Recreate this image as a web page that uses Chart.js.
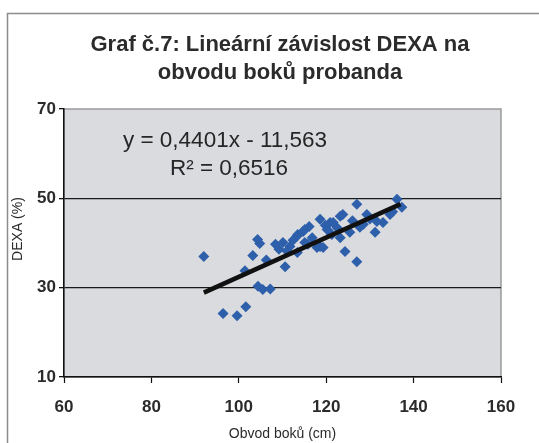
<!DOCTYPE html>
<html>
<head>
<meta charset="utf-8">
<script src="https://cdn.jsdelivr.net/npm/chart.js@4.4.0/dist/chart.umd.min.js"></script>
<style>
  html, body { margin: 0; padding: 0; background: #fff; }
</style>
</head>
<body>
<canvas id="graf" width="539" height="443"></canvas>
<script>
// hodnoty
const obvodBoku = [92, 96.4, 99.6, 101.6, 101.4, 103.2, 104.3, 104.8, 106.3, 104.4, 105.5, 107.2, 108.4, 109.2, 110.1, 111.0, 111.7, 112.4, 113.3, 113.5, 113.4, 110.6, 115.1, 114.7, 115.1, 115.8, 116.1, 116.8, 117.9, 118.6, 118.6, 119.3, 119.8, 120.2, 120.9, 121.6, 121.3, 122.5, 123.2, 123.8, 123.2, 124.3, 125.4, 126.0, 127.0, 127.0, 127.7, 128.5, 129.3, 130.0, 131.2, 131.6, 133.0, 134.6, 135.2, 136.2, 137.3];
const dexa = [37.0, 24.2, 23.7, 25.7, 33.8, 37.2, 40.8, 39.9, 36.2, 30.3, 29.6, 29.7, 39.7, 38.6, 40.1, 38.2, 39.2, 40.6, 41.5, 41.9, 37.9, 34.7, 43.0, 42.6, 40.1, 39.7, 43.7, 41.2, 39.0, 45.3, 39.2, 39.0, 44.0, 43.0, 44.6, 44.6, 41.9, 43.4, 46.0, 46.4, 41.2, 38.1, 42.4, 45.0, 48.7, 35.8, 43.5, 44.2, 46.4, 45.4, 42.4, 44.8, 44.6, 46.4, 47.0, 49.8, 48.0];
const trendX = [92, 137];
const trendY = [28.9, 48.7];
const xTicks = [60, 80, 100, 120, 140, 160];
const yTicks = [10, 30, 50, 70];
const nadpis = ['Graf č.7: Lineární závislost DEXA na', 'obvodu boků probanda'];
const rovnice = ['y = 0,4401x - 11,563', 'R² = 0,6516'];
const osaY = 'DEXA (%)';

const body = obvodBoku.map((x, i) => ({ x: x, y: dexa[i] }));
const trend = trendX.map((x, i) => ({ x: x, y: trendY[i] }));
const pismo = '"Liberation Sans", Arial, sans-serif';

const pozadi = {
  id: 'pozadi',
  beforeDraw(chart) {
    const { ctx, chartArea: a } = chart;
    ctx.save();
    ctx.fillStyle = '#fff';
    ctx.fillRect(0, 0, chart.width, chart.height);
    // ramecek grafu
    ctx.strokeStyle = '#8c8c8c';
    ctx.lineWidth = 1.5;
    ctx.beginPath();
    ctx.moveTo(7.5, chart.height);
    ctx.lineTo(7.5, 13.5);
    ctx.lineTo(chart.width, 13.5);
    ctx.stroke();
    // plocha
    ctx.fillStyle = '#d9dbde';
    ctx.fillRect(a.left, a.top, a.right - a.left, a.bottom - a.top);
    ctx.strokeStyle = '#9a9a9a';
    ctx.strokeRect(a.left, a.top, a.right - a.left, a.bottom - a.top);
    // nadpis - v originale je posunuty doprava od stredu plochy
    ctx.fillStyle = '#2b2b2b';
    ctx.textAlign = 'center';
    ctx.textBaseline = 'middle';
    ctx.font = 'bold 22px ' + pismo;
    ctx.fillText(nadpis[0], 280, 45);
    ctx.fillText(nadpis[1], 280, 73);
    // popis osy y (o kus vys nez stred)
    ctx.font = '14px ' + pismo;
    ctx.translate(18, 229);
    ctx.rotate(-Math.PI / 2);
    ctx.fillText(osaY, 0, 0);
    ctx.restore();
  },
  afterDatasetsDraw(chart) {
    const ctx = chart.ctx;
    ctx.save();
    ctx.fillStyle = '#262626';
    ctx.font = '22.5px ' + pismo;
    ctx.textAlign = 'center';
    ctx.textBaseline = 'alphabetic';
    ctx.fillText(rovnice[0], 225, 147);
    ctx.fillText(rovnice[1], 229, 175);
    ctx.restore();
  }
};

new Chart(document.getElementById('graf'), {
  type: 'scatter',
  data: {
    datasets: [
      {
        data: trend,
        type: 'line',
        borderColor: '#111',
        borderWidth: 4.5,
        pointRadius: 0,
        order: 0
      },
      {
        data: body,
        pointStyle: 'rectRot',
        pointRadius: 5.5,
        pointBackgroundColor: '#2d5fab',
        pointBorderColor: '#2d5fab',
        pointBorderWidth: 0,
        order: 1
      }
    ]
  },
  options: {
    responsive: false,
    animation: false,
    layout: { padding: { left: 0, right: 38, top: 109, bottom: 0 } },
    plugins: {
      legend: { display: false },
      tooltip: { enabled: false },
      title: { display: false }
    },
    scales: {
      x: {
        type: 'linear',
        min: 60,
        max: 160,
        afterBuildTicks: s => { s.ticks = xTicks.map(v => ({ value: v })); },
        afterFit: s => { s.height = 66; },
        grid: { drawOnChartArea: false, tickColor: '#111', tickLength: 6, tickWidth: 1.2 },
        border: { color: '#111', width: 1.5 },
        ticks: {
          color: '#2b2b2b',
          padding: 14,
          font: { family: pismo, size: 17, weight: 'bold' }
        },
        title: {
          display: true,
          text: 'Obvod boků (cm)',
          color: '#2b2b2b',
          font: { family: pismo, size: 14 },
          padding: { top: 3, bottom: 0 }
        }
      },
      y: {
        type: 'linear',
        min: 10,
        max: 70,
        afterBuildTicks: s => { s.ticks = yTicks.map(v => ({ value: v })); },
        afterFit: s => { s.width = 64; },
        grid: {
          color: c => (c.tick && (c.tick.value === 30 || c.tick.value === 50)) ? '#1a1a1a' : 'rgba(0,0,0,0)',
          lineWidth: 1.3,
          tickColor: '#111',
          tickLength: 5
        },
        border: { color: '#111', width: 1.5 },
        ticks: {
          color: '#2b2b2b',
          padding: 3,
          font: { family: pismo, size: 17, weight: 'bold' }
        }
      }
    }
  },
  plugins: [pozadi]
});
</script>
</body>
</html>
